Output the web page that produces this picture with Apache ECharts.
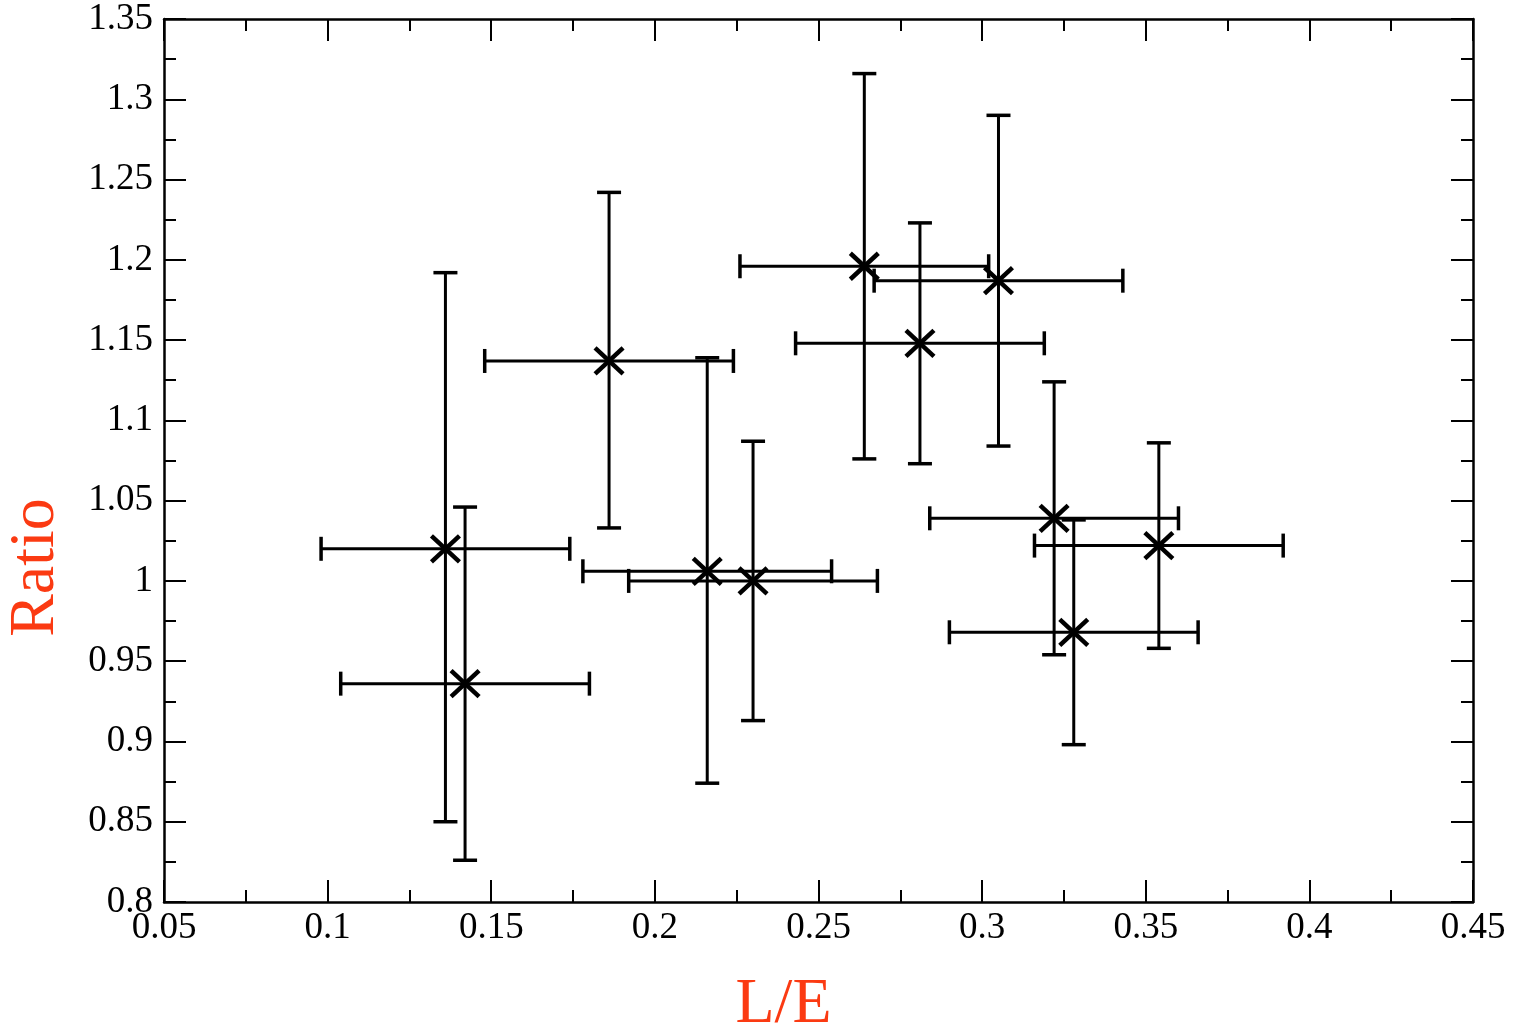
<!DOCTYPE html>
<html><head><meta charset="utf-8">
<script src="https://cdn.jsdelivr.net/npm/echarts@6/dist/echarts.min.js"></script>
<style>html,body{margin:0;padding:0;background:#fff}#c{width:1514px;height:1029px}</style>
</head><body><div id="c"></div>
<script>
// Data
const xValues = [0.136, 0.142, 0.186, 0.216, 0.230, 0.264, 0.281, 0.305, 0.322, 0.328, 0.354];
const yValues = [1.020, 0.936, 1.137, 1.006, 1.000, 1.196, 1.148, 1.187, 1.039, 0.968, 1.022];
const xLow    = [0.098, 0.104, 0.148, 0.178, 0.192, 0.226, 0.243, 0.267, 0.284, 0.290, 0.316];
const xHigh   = [0.174, 0.180, 0.224, 0.254, 0.268, 0.302, 0.319, 0.343, 0.360, 0.366, 0.392];
const yLow    = [0.850, 0.826, 1.033, 0.874, 0.913, 1.076, 1.073, 1.084, 0.954, 0.898, 0.958];
const yHigh   = [1.192, 1.046, 1.242, 1.139, 1.087, 1.316, 1.223, 1.290, 1.124, 1.038, 1.086];
const xTickLabels = ['0.05','0.1','0.15','0.2','0.25','0.3','0.35','0.4','0.45'];
const yTickLabels = ['0.8','0.85','0.9','0.95','1','1.05','1.1','1.15','1.2','1.25','1.3','1.35'];
const xTitle = 'L/E';
const yTitle = 'Ratio';

const FONT = "'Liberation Serif','Times New Roman',serif";
const data = xValues.map((x, i) => [x, yValues[i], xLow[i], xHigh[i], yLow[i], yHigh[i]]);

function lookup(labels, v) {
  let best = labels[0], bd = Infinity;
  for (const s of labels) { const d = Math.abs(parseFloat(s) - v); if (d < bd) { bd = d; best = s; } }
  return bd < 1e-6 ? best : '';
}

function renderItem(params, api) {
  const c = api.coord([api.value(0), api.value(1)]);
  const l = api.coord([api.value(2), api.value(1)]);
  const r = api.coord([api.value(3), api.value(1)]);
  const b = api.coord([api.value(0), api.value(4)]);
  const t = api.coord([api.value(0), api.value(5)]);
  const cap = 12, mx = 14, my = 13;
  const st = { stroke: '#000', lineWidth: 3, fill: null };
  const cs = { stroke: '#000', lineWidth: 3.5, fill: null };
  const ms = { stroke: '#000', lineWidth: 4.5, fill: null };
  return { type: 'group', children: [
    { type: 'line', shape: { x1: l[0], y1: l[1], x2: r[0], y2: r[1] }, style: st },
    { type: 'line', shape: { x1: b[0], y1: b[1], x2: t[0], y2: t[1] }, style: st },
    { type: 'line', shape: { x1: l[0], y1: l[1] - cap, x2: l[0], y2: l[1] + cap }, style: cs },
    { type: 'line', shape: { x1: r[0], y1: r[1] - cap, x2: r[0], y2: r[1] + cap }, style: cs },
    { type: 'line', shape: { x1: t[0] - cap, y1: t[1], x2: t[0] + cap, y2: t[1] }, style: cs },
    { type: 'line', shape: { x1: b[0] - cap, y1: b[1], x2: b[0] + cap, y2: b[1] }, style: cs },
    { type: 'line', shape: { x1: c[0] - mx, y1: c[1] - my, x2: c[0] + mx, y2: c[1] + my }, style: ms },
    { type: 'line', shape: { x1: c[0] - mx, y1: c[1] + my, x2: c[0] + mx, y2: c[1] - my }, style: ms }
  ]};
}

const axisLine = { show: true, onZero: false, lineStyle: { color: '#000', width: 2.5 } };
const axisTick = { show: true, inside: true, length: 22, lineStyle: { color: '#000', width: 2 } };
const minorTick = { show: true, splitNumber: 2, length: 12, lineStyle: { color: '#000', width: 2 } };
const axisLabelStyle = { color: '#000', fontFamily: FONT, fontSize: 37 };

const option = {
  backgroundColor: '#fff',
  animation: false,
  grid: { left: 164, right: 41, top: 19, bottom: 127, containLabel: false, outerBoundsMode: 'none' },
  xAxis: [
    { type: 'value', min: 0.05, max: 0.45, interval: 0.05, position: 'bottom',
      axisLine, axisTick, minorTick, splitLine: { show: false },
      axisLabel: Object.assign({ margin: 8, formatter: v => lookup(xTickLabels, v) }, axisLabelStyle),
      name: xTitle, nameLocation: 'middle', nameGap: 71,
      nameTextStyle: { color: '#fb3a12', fontFamily: FONT, fontSize: 64, padding: [0, 70, 0, 0] } },
    { type: 'value', min: 0.05, max: 0.45, interval: 0.05, position: 'top',
      axisLine, axisTick, minorTick, splitLine: { show: false }, axisLabel: { show: false } }
  ],
  yAxis: [
    { type: 'value', min: 0.8, max: 1.35, interval: 0.05, position: 'left',
      axisLine, axisTick, minorTick, splitLine: { show: false },
      axisLabel: Object.assign({ margin: 11, formatter: v => lookup(yTickLabels, v) }, axisLabelStyle),
      name: yTitle, nameLocation: 'middle', nameGap: 96, nameRotate: 90,
      nameTextStyle: { color: '#fb3a12', fontFamily: FONT, fontSize: 64, padding: [0, 214, 0, 0] } },
    { type: 'value', min: 0.8, max: 1.35, interval: 0.05, position: 'right',
      axisLine, axisTick, minorTick, splitLine: { show: false }, axisLabel: { show: false } }
  ],
  series: [{
    type: 'custom', renderItem, data, clip: false,
    encode: { x: 0, y: 1 }
  }]
};

const chart = echarts.init(document.getElementById('c'), null, { renderer: 'canvas' });
chart.setOption(option);
</script>
</body></html>
